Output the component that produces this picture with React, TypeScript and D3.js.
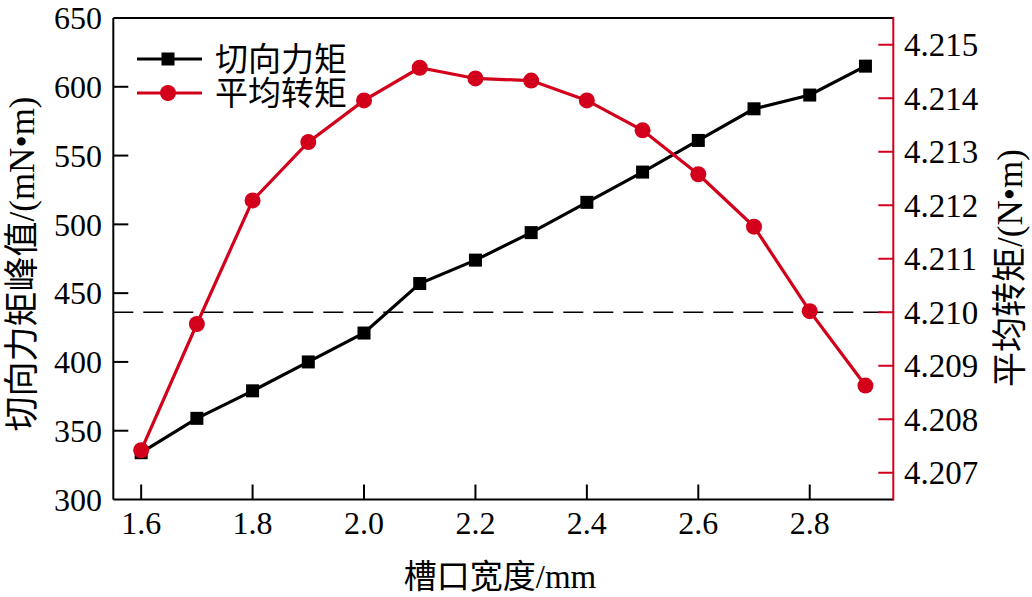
import React from "react";
import * as d3 from "d3";

const slotWidths = [1.6, 1.7, 1.8, 1.9, 2.0, 2.1, 2.2, 2.3, 2.4, 2.5, 2.6, 2.7, 2.8, 2.9];
const tangentialPeak = [334, 359, 379, 400, 421, 457, 474, 494, 516, 538, 561, 584, 594, 615];
const averageTorque = [4.20742, 4.20978, 4.21209, 4.21318, 4.21396, 4.21457, 4.21437, 4.21433, 4.21396, 4.2134, 4.21258, 4.2116, 4.21002, 4.20863];
const xTicks = [1.6, 1.8, 2.0, 2.2, 2.4, 2.6, 2.8];
const leftTicks = [300, 350, 400, 450, 500, 550, 600, 650];
const rightTicks = [4.207, 4.208, 4.209, 4.21, 4.211, 4.212, 4.213, 4.214, 4.215];
const refLevel = 4.21;
const seriesNames = ["切向力矩", "平均转矩"];

const W = 1032;
const H = 597;
const L = 113.3, R = 893.3, T = 18, B = 499.5;
const RED = "#d2001a";
const FONT = "'Liberation Serif', 'Noto Sans CJK SC', serif";

export default function App() {
  const x = d3.scaleLinear().domain([1.55, 2.95]).range([L, R]);
  const yL = d3.scaleLinear().domain([300, 650]).range([B, T]);
  const yR = d3.scaleLinear().domain([4.2065, 4.2155]).range([B, T]);

  const lineL = d3.line<number>().x((_, i) => x(slotWidths[i])).y((d) => yL(d));
  const lineR = d3.line<number>().x((_, i) => x(slotWidths[i])).y((d) => yR(d));

  const sq = 13;
  const cr = 8;

  return (
    <svg width={W} height={H} style={{ position: "absolute", left: 0, top: 0, background: "#fff" }} fontFamily={FONT}>
      <rect x={0} y={0} width={W} height={H} fill="#fff" />
      {/* dashed reference */}
      <line x1={L} x2={R} y1={yR(refLevel)} y2={yR(refLevel)} stroke="#000" strokeWidth={1.6} strokeDasharray="20,10" />

      {/* frame */}
      <line x1={L} x2={R} y1={T} y2={T} stroke="#000" strokeWidth={2} />
      <line x1={L} x2={R} y1={B} y2={B} stroke="#000" strokeWidth={2} />
      <line x1={L} x2={L} y1={T} y2={B} stroke="#000" strokeWidth={2} />
      <line x1={R} x2={R} y1={T - 1} y2={B + 1} stroke={RED} strokeWidth={2} />

      {/* x ticks */}
      {xTicks.map((t) => (
        <g key={"x" + t}>
          <line x1={x(t)} x2={x(t)} y1={B} y2={B - 15} stroke="#000" strokeWidth={2} />
          <text x={x(t)} y={534} fontSize={32} textAnchor="middle" fill="#000">{t.toFixed(1)}</text>
        </g>
      ))}
      {/* left ticks */}
      {leftTicks.map((t) => (
        <g key={"l" + t}>
          {t !== 300 && t !== 650 && <line x1={L} x2={L + 15} y1={yL(t)} y2={yL(t)} stroke="#000" strokeWidth={2} />}
          <text x={102} y={yL(t)} dy="0.35em" fontSize={32} textAnchor="end" fill="#000">{t}</text>
        </g>
      ))}
      {/* right ticks */}
      {rightTicks.map((t) => (
        <g key={"r" + t}>
          <line x1={R} x2={R - 15} y1={yR(t)} y2={yR(t)} stroke={RED} strokeWidth={2} />
          <text x={904} y={yR(t)} dy="0.35em" fontSize={33} textAnchor="start" fill="#000">{t.toFixed(3)}</text>
        </g>
      ))}

      {/* axis titles */}
      <text x={500} y={588} fontSize={33} textAnchor="middle" fill="#000">槽口宽度/mm</text>
      <text transform="translate(22,264) rotate(-90)" fontSize={35} textAnchor="middle" dy="0.35em" fill="#000">切向力矩峰值/(mN•m)</text>
      <text transform="translate(1010,268) rotate(-90)" fontSize={35} textAnchor="middle" dy="0.35em" fill="#000">平均转矩/(N•m)</text>

      {/* black series */}
      <path d={lineL(tangentialPeak) || ""} fill="none" stroke="#000" strokeWidth={3.2} />
      {tangentialPeak.map((v, i) => (
        <rect key={"s" + i} x={x(slotWidths[i]) - sq / 2} y={yL(v) - sq / 2} width={sq} height={sq} fill="#000" />
      ))}
      {/* red series */}
      <path d={lineR(averageTorque) || ""} fill="none" stroke={RED} strokeWidth={3.2} />
      {averageTorque.map((v, i) => (
        <circle key={"c" + i} cx={x(slotWidths[i])} cy={yR(v)} r={cr} fill={RED} />
      ))}

      {/* legend */}
      <line x1={137} x2={202} y1={59} y2={59} stroke="#000" strokeWidth={3.2} />
      <rect x={168 - sq / 2} y={59 - sq / 2} width={sq} height={sq} fill="#000" />
      <text x={215} y={59} dy="0.35em" fontSize={33} fill="#000">{seriesNames[0]}</text>
      <line x1={137} x2={202} y1={93} y2={93} stroke={RED} strokeWidth={3.2} />
      <circle cx={168} cy={93} r={cr} fill={RED} />
      <text x={215} y={93} dy="0.35em" fontSize={33} fill="#000">{seriesNames[1]}</text>
    </svg>
  );
}
